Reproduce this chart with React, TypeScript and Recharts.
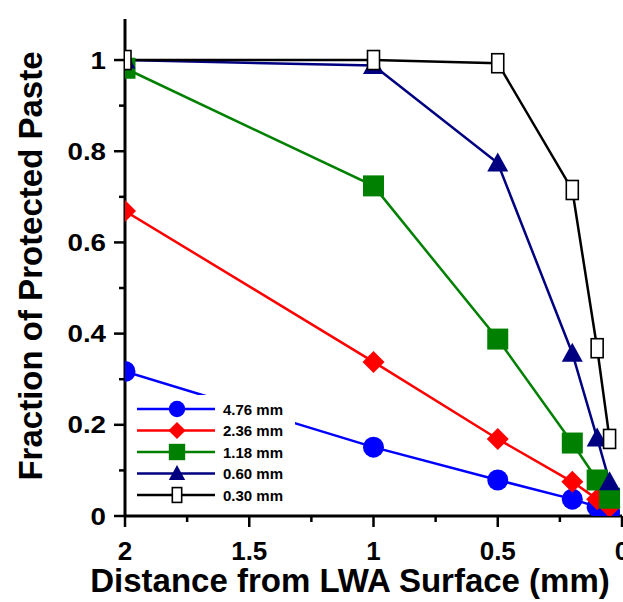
import React from 'react';
import { LineChart, Line, XAxis, YAxis, Legend } from 'recharts';

const distances = [2, 1, 0.5, 0.2, 0.1, 0.05];
const s476 = [0.317, 0.151, 0.079, 0.037, 0.02, 0.009];
const s236 = [0.669, 0.338, 0.169, 0.075, 0.037, 0.02];
const s118 = [0.982, 0.724, 0.388, 0.16, 0.079, 0.039];
const s060 = [1.0, 0.988, 0.774, 0.357, 0.171, 0.075];
const s030 = [1.0, 1.0, 0.993, 0.715, 0.368, 0.169];

const seriesNames = ['4.76 mm', '2.36 mm', '1.18 mm', '0.60 mm', '0.30 mm'];
const xTicks = [2, 1.75, 1.5, 1.25, 1, 0.75, 0.5, 0.25, 0];
const yTicks = [0, 0.1, 0.2, 0.3, 0.4, 0.5, 0.6, 0.7, 0.8, 0.9, 1.0];

const data = distances.map((d, i) => ({
  x: d,
  s476: s476[i],
  s236: s236[i],
  s118: s118[i],
  s060: s060[i],
  s030: s030[i],
}));

const FONT = "'Liberation Sans', Arial, sans-serif";

type Shape = 'circle' | 'diamond' | 'square' | 'triangle' | 'hollow';

const seriesStyle: { key: string; color: string; shape: Shape }[] = [
  { key: 's476', color: '#0000ff', shape: 'circle' },
  { key: 's236', color: '#ff0000', shape: 'diamond' },
  { key: 's118', color: '#008000', shape: 'square' },
  { key: 's060', color: '#000080', shape: 'triangle' },
  { key: 's030', color: '#000000', shape: 'hollow' },
];

function Marker({ cx, cy, shape, color, s }: { cx: number; cy: number; shape: Shape; color: string; s: number }) {
  if (cx == null || cy == null) return null;
  switch (shape) {
    case 'circle':
      return <circle cx={cx} cy={cy} r={10.5 * s} fill={color} />;
    case 'diamond': {
      const r = 11 * s;
      return <polygon points={`${cx},${cy - r} ${cx + r},${cy} ${cx},${cy + r} ${cx - r},${cy}`} fill={color} />;
    }
    case 'square': {
      const h = 10.5 * s;
      return <rect x={cx - h} y={cy - h} width={2 * h} height={2 * h} fill={color} />;
    }
    case 'triangle': {
      const w = 10.5 * s;
      const hh = 9.5 * s;
      return <polygon points={`${cx},${cy - hh - 1} ${cx + w},${cy + hh - 1} ${cx - w},${cy + hh - 1}`} fill={color} />;
    }
    case 'hollow': {
      const w = 6 * s;
      const h = 9.5 * s;
      return <rect x={cx - w} y={cy - h} width={2 * w} height={2 * h} fill="#fff" stroke={color} strokeWidth={1.6} />;
    }
  }
  return null;
}

const isMajorX = (v: number) => Math.abs(v * 2 - Math.round(v * 2)) < 1e-6;
const isMajorY = (v: number) => Math.round(v * 10) % 2 === 0;

const XTick = (props: any) => {
  const { x, y, payload } = props;
  const v = payload.value;
  const major = isMajorX(v);
  return (
    <g>
      <line x1={x} x2={x} y1={y} y2={y + (major ? 11 : 6)} stroke="#000" strokeWidth={2.5} />
      {major && (
        <text x={x} y={y + 44} textAnchor="middle" fontSize={26} fontWeight="bold" fontFamily={FONT} fill="#000">
          {String(v)}
        </text>
      )}
    </g>
  );
};

const TopTick = (props: any) => {
  const { x, y, payload } = props;
  const major = isMajorX(payload.value);
  return <line x1={x} x2={x} y1={y} y2={y - (major ? 11 : 6)} stroke="#000" strokeWidth={2.5} />;
};

const YTick = (props: any) => {
  const { x, y, payload } = props;
  const v = payload.value;
  const major = isMajorY(v);
  const label = Math.abs(v) < 1e-9 ? '0' : Math.abs(v - 1) < 1e-9 ? '1' : v.toFixed(1);
  return (
    <g>
      <line x1={x - (major ? 11 : 6)} x2={x} y1={y} y2={y} stroke="#000" strokeWidth={2.5} />
      {major && (
        <text
          transform={`translate(${x - 19},${y + 8.5}) scale(1.18,1)`}
          textAnchor="end"
          fontSize={23.5}
          fontWeight="bold"
          fontFamily={FONT}
          fill="#000"
        >
          {label}
        </text>
      )}
    </g>
  );
};

const LegendContent = () => (
  <svg width={165} height={115} style={{ display: 'block' }}>
    <rect x={0} y={0} width={165} height={115} fill="#fff" />
    {seriesStyle.map((st, i) => {
      const cy = 14 + i * 21.5;
      return (
        <g key={st.key}>
          <line x1={7} x2={85} y1={cy} y2={cy} stroke={st.color} strokeWidth={2.5} />
          <Marker cx={47} cy={cy} shape={st.shape} color={st.color} s={0.78} />
          <text x={93} y={cy + 5.5} fontSize={15} fontWeight="bold" fontFamily={FONT} fill="#000">
            {seriesNames[i]}
          </text>
        </g>
      );
    })}
  </svg>
);

export default function App() {
  return (
    <div style={{ position: 'absolute', left: 0, top: 0, width: 623, height: 602, background: '#fff' }}>
      <LineChart width={623} height={602} data={data} margin={{ top: 19, right: 1, left: 0, bottom: 0 }}>
        <XAxis
          dataKey="x"
          type="number"
          domain={[0, 2]}
          reversed
          allowDataOverflow
          ticks={xTicks}
          interval={0}
          height={86}
          tickSize={0}
          tickMargin={0}
          tickLine={false}
          axisLine={{ stroke: '#000', strokeWidth: 3 }}
          tick={<XTick />}
          label={{
            content: () => (
              <text x={350} y={592} textAnchor="middle" fontSize={33} fontWeight="bold" fontFamily={FONT} fill="#000">
                Distance from LWA Surface (mm)
              </text>
            ),
          }}
        />
        <XAxis
          xAxisId="top"
          orientation="top"
          dataKey="x"
          type="number"
          domain={[0, 2]}
          reversed
          allowDataOverflow
          ticks={xTicks}
          interval={0}
          height={0}
          tickSize={0}
          tickMargin={0}
          tickLine={false}
          axisLine={{ stroke: '#000', strokeWidth: 3 }}
          tick={<TopTick />}
        />
        <YAxis
          type="number"
          domain={[0, 1.09]}
          allowDataOverflow
          ticks={yTicks}
          interval={0}
          width={125}
          tickSize={0}
          tickMargin={0}
          tickLine={false}
          axisLine={{ stroke: '#000', strokeWidth: 3 }}
          tick={<YTick />}
          label={{
            content: () => (
              <text
                transform="translate(42,266) rotate(-90)"
                textAnchor="middle"
                fontSize={33}
                fontWeight="bold"
                fontFamily={FONT}
                fill="#000"
              >
                Fraction of Protected Paste
              </text>
            ),
          }}
        />
        <YAxis
          yAxisId="right"
          orientation="right"
          type="number"
          domain={[0, 1.09]}
          width={0}
          tick={false}
          tickLine={false}
          axisLine={{ stroke: '#000', strokeWidth: 3 }}
        />
        <Legend
          layout="horizontal"
          verticalAlign="middle"
          align="center"
          content={<LegendContent />}
          wrapperStyle={{ position: 'absolute', left: 130, top: 395, width: 165, height: 115 }}
        />
        {seriesStyle.map((st, i) => (
          <Line
            key={st.key}
            dataKey={st.key}
            name={seriesNames[i]}
            type="linear"
            stroke={st.color}
            strokeWidth={2.5}
            isAnimationActive={false}
            dot={(p: any) => (
              <Marker key={`${st.key}-${p.index}`} cx={p.cx} cy={p.cy} shape={st.shape} color={st.color} s={1} />
            )}
            activeDot={false}
          />
        ))}
      </LineChart>
    </div>
  );
}
